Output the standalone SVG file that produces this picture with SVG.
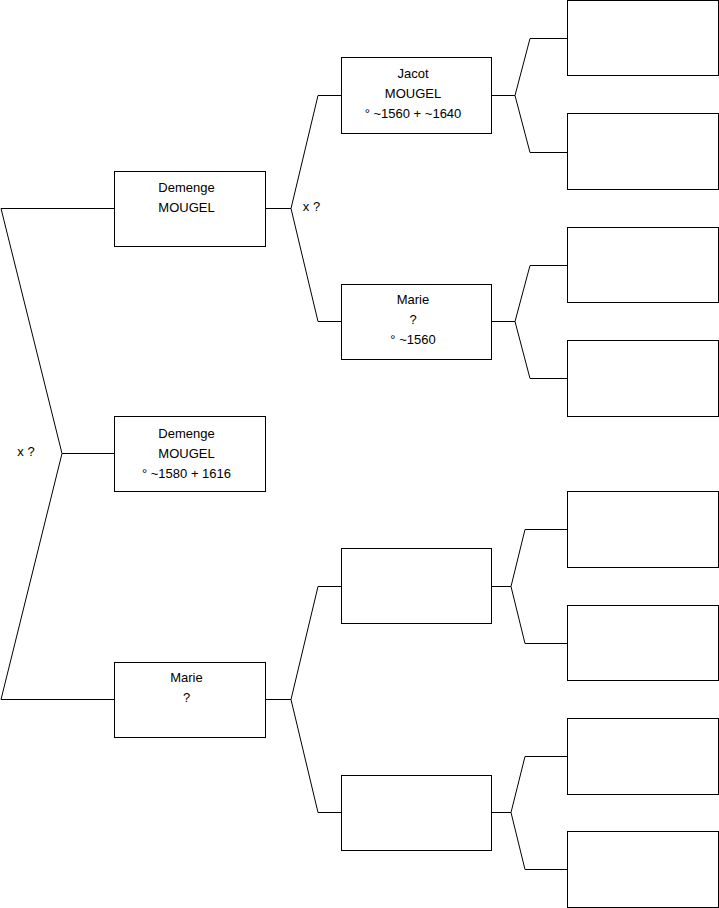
<svg xmlns="http://www.w3.org/2000/svg" width="719" height="908" viewBox="0 0 719 908">
<style>
.box{fill:#fff;stroke:#000;stroke-width:1}
.ln{fill:none;stroke:#000;stroke-width:1}
text{font-family:"Liberation Sans",Arial,sans-serif;font-size:13px;fill:#000;text-anchor:middle}
</style>
<rect width="719" height="908" fill="#fff"/>
<g id="connectors">
<polyline class="ln" points="114,208.5 1,208.5 62,453.5 1,699.5 114,699.5"/>
<line class="ln" x1="62" y1="453.5" x2="114" y2="453.5"/>
<text x="26" y="456">x ?</text>
<polyline class="ln" points="341,95.5 318,95.5 291,208.5 318,321.5 341,321.5"/>
<line class="ln" x1="265" y1="208.5" x2="291" y2="208.5"/>
<text x="311.5" y="211">x ?</text>
<polyline class="ln" points="341,586.5 318,586.5 291,699.5 318,812.5 341,812.5"/>
<line class="ln" x1="265" y1="699.5" x2="291" y2="699.5"/>
<polyline class="ln" points="567,38.5 530,38.5 515,95.5 530,152.5 567,152.5"/>
<line class="ln" x1="491" y1="95.5" x2="515" y2="95.5"/>
<polyline class="ln" points="567,265.5 530,265.5 515,321.5 530,378.5 567,378.5"/>
<line class="ln" x1="491" y1="321.5" x2="515" y2="321.5"/>
<polyline class="ln" points="567,529.5 525,529.5 511,586.5 525,643.5 567,643.5"/>
<line class="ln" x1="491" y1="586.5" x2="511" y2="586.5"/>
<polyline class="ln" points="567,756.5 525,756.5 511,812.5 525,869.5 567,869.5"/>
<line class="ln" x1="491" y1="812.5" x2="511" y2="812.5"/>
</g>
<g id="n-demenge-father">
<rect class="box" x="114.5" y="171.5" width="151" height="75"/>
<text x="186.5" y="191.5">Demenge</text>
<text x="186.5" y="211.5">MOUGEL</text>
</g>
<g id="n-demenge">
<rect class="box" x="114.5" y="416.5" width="151" height="75"/>
<text x="186.5" y="438">Demenge</text>
<text x="186.5" y="458">MOUGEL</text>
<text x="186.5" y="478">° ~1580 + 1616</text>
</g>
<g id="n-marie-mother">
<rect class="box" x="114.5" y="662.5" width="151" height="75"/>
<text x="186.5" y="682">Marie</text>
<text x="186.5" y="702">?</text>
</g>
<g id="n-jacot">
<rect class="box" x="341.5" y="57.5" width="150" height="76"/>
<text x="413" y="78">Jacot</text>
<text x="413" y="98">MOUGEL</text>
<text x="413" y="118">° ~1560 + ~1640</text>
</g>
<g id="n-marie-gm">
<rect class="box" x="341.5" y="284.5" width="150" height="75"/>
<text x="413" y="304">Marie</text>
<text x="413" y="324">?</text>
<text x="413" y="344">° ~1560</text>
</g>
<g id="n-gen2-3">
<rect class="box" x="341.5" y="548.5" width="150" height="75"/>
</g>
<g id="n-gen2-4">
<rect class="box" x="341.5" y="775.5" width="150" height="75"/>
</g>
<g id="n-gen3-1"><rect class="box" x="567.5" y="0.5" width="151" height="75"/></g>
<g id="n-gen3-2"><rect class="box" x="567.5" y="113.5" width="151" height="76"/></g>
<g id="n-gen3-3"><rect class="box" x="567.5" y="227.5" width="151" height="75"/></g>
<g id="n-gen3-4"><rect class="box" x="567.5" y="340.5" width="151" height="76"/></g>
<g id="n-gen3-5"><rect class="box" x="567.5" y="491.5" width="151" height="76"/></g>
<g id="n-gen3-6"><rect class="box" x="567.5" y="605.5" width="151" height="75"/></g>
<g id="n-gen3-7"><rect class="box" x="567.5" y="718.5" width="151" height="76"/></g>
<g id="n-gen3-8"><rect class="box" x="567.5" y="831.5" width="151" height="76"/></g>
</svg>
